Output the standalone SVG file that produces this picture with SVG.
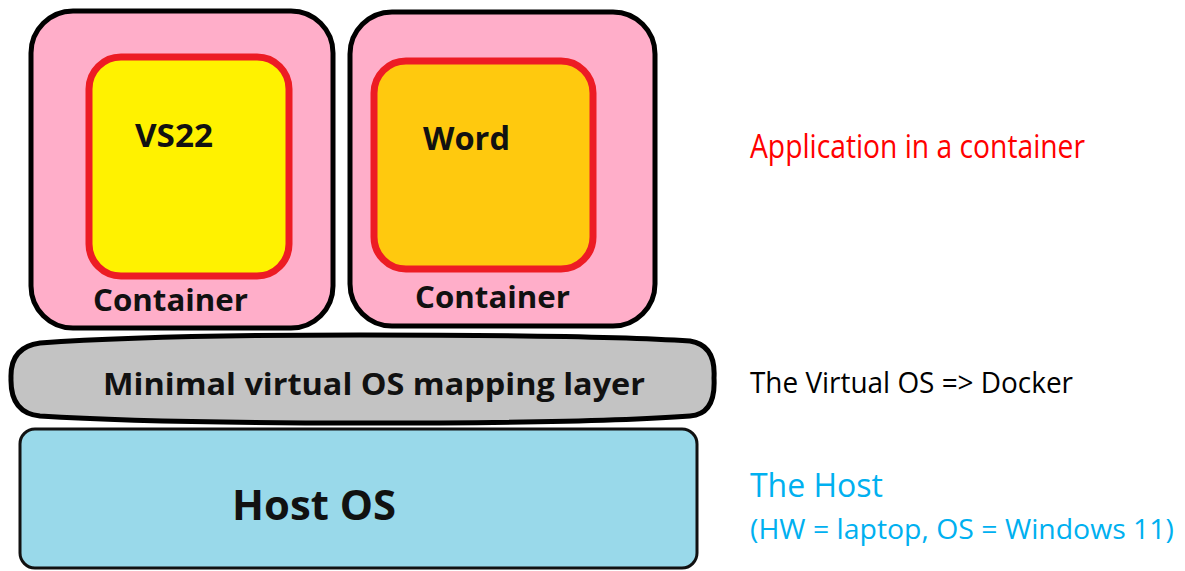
<svg xmlns="http://www.w3.org/2000/svg" width="1185" height="571" viewBox="0 0 1185 571">
<style>
.cont{fill:#ffaec9;stroke:#000;stroke-width:5}
.app{stroke:#ed1c24;stroke-width:7}
.lbl{font-family:"Open Sans","Liberation Sans",sans-serif;font-weight:bold;fill:#111}
.side{font-family:"Open Sans","Liberation Sans",sans-serif}
</style>
<rect width="1185" height="571" fill="#fff"/>
<g id="container1">
<rect class="cont" x="31" y="11" width="302" height="317" rx="42"/>
<rect class="app" x="89" y="57" width="200" height="219" rx="32" fill="#fff200"/>
<text class="lbl" x="135" y="147" font-size="33" textLength="78" lengthAdjust="spacingAndGlyphs">VS22</text>
<text class="lbl" x="93" y="311" font-size="31" textLength="155" lengthAdjust="spacingAndGlyphs">Container</text>
</g>
<g id="container2">
<rect class="cont" x="350" y="12" width="305" height="314" rx="42"/>
<rect class="app" x="374" y="61" width="219" height="208" rx="32" fill="#ffc90e"/>
<text class="lbl" x="423" y="150" font-size="33" textLength="87" lengthAdjust="spacingAndGlyphs">Word</text>
<text class="lbl" x="415" y="308" font-size="31" textLength="155" lengthAdjust="spacingAndGlyphs">Container</text>
</g>
<g id="docker">
<path d="M 40,343 Q 150,335 360,335 Q 600,335 690,341 Q 716,345 714,378 Q 716,414 690,416 Q 600,423 360,423 Q 150,423 40,416 Q 10,413 11,378 Q 10,347 40,343 Z" fill="#c3c3c3" stroke="#000" stroke-width="5"/>
<text class="lbl" x="103" y="395" font-size="31" textLength="542" lengthAdjust="spacingAndGlyphs">Minimal virtual OS mapping layer</text>
</g>
<g id="host">
<rect x="20" y="429" width="677" height="139" rx="15" fill="#99d9ea" stroke="#111" stroke-width="3"/>
<text class="lbl" x="232" y="520" font-size="41" textLength="164" lengthAdjust="spacingAndGlyphs">Host OS</text>
</g>
<g id="connectors"/>
<g id="annotations">
<text class="side" x="750" y="158" font-size="32" fill="#ff0000" textLength="335" lengthAdjust="spacingAndGlyphs">Application in a container</text>
<text class="side" x="750" y="393" font-size="29" fill="#000" textLength="323" lengthAdjust="spacingAndGlyphs">The Virtual OS =&gt; Docker</text>
<text class="side" x="750" y="497" font-size="32" fill="#00b0f0" textLength="133" lengthAdjust="spacingAndGlyphs">The Host</text>
<text class="side" x="750" y="539" font-size="27" fill="#00b0f0" textLength="424" lengthAdjust="spacingAndGlyphs">(HW = laptop, OS = Windows 11)</text>
</g>
</svg>
